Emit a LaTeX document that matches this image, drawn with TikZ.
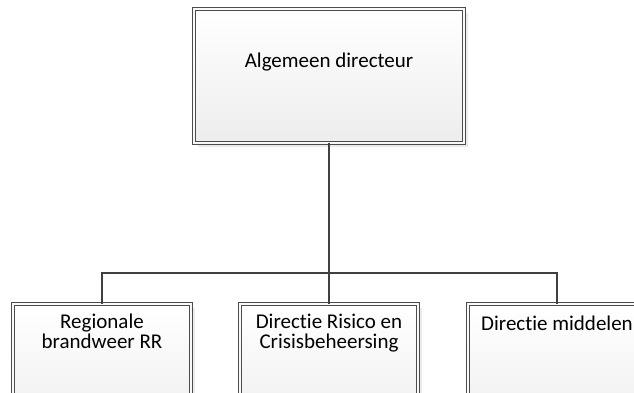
\documentclass[tikz,border=0pt]{standalone}
\usepackage{fontspec}
\setmainfont{Carlito}[RawFeature=-liga]
\usetikzlibrary{shadows}

\begin{document}
\begin{tikzpicture}[x=1pt,y=-1pt]

\tikzset{
	orgbox/.style={draw=black!70, line width=0.8pt, double=gray!5,
		double distance=2.6pt, top color=white, bottom color=gray!14,
		drop shadow={shadow xshift=4pt, shadow yshift=-4pt,
			fill=gray!16, opacity=1},
		minimum height=134pt, inner sep=0pt},
	orgtext/.style={font=\fontsize{21}{20}\selectfont, align=center,
		anchor=north, inner sep=0pt},
	orgline/.style={draw=black!75, line width=2.2pt}
}

\clip (0,0) rectangle (634,392);

\node[orgbox, minimum width=270pt] (dir) at (329,76) {};
\node[orgbox, minimum width=178pt] (brw) at (102,371) {};
\node[orgbox, minimum width=178pt] (rcb) at (329,371) {};
\node[orgbox, minimum width=178pt] (mid) at (557,371) {};

\node[orgtext] (dirtxt) at ([yshift=-44pt]dir.north)
	{Algemeen directeur};
\node[orgtext] (brwtxt) at ([yshift=-10pt]brw.north)
	{Regionale\\brandweer RR};
\node[orgtext] (rcbtxt) at ([yshift=-10pt]rcb.north)
	{Directie Risico en\\Crisisbeheersing};
\node[orgtext] (midtxt) at ([yshift=-12pt]mid.north)
	{Directie middelen};

\coordinate (bus) at (329,273);
\draw[orgline] (dir.south) -- (bus);
\draw[orgline] (brw.north) |- (bus) -| (mid.north);
\draw[orgline] (bus) -- (rcb.north);

\end{tikzpicture}
\end{document}
